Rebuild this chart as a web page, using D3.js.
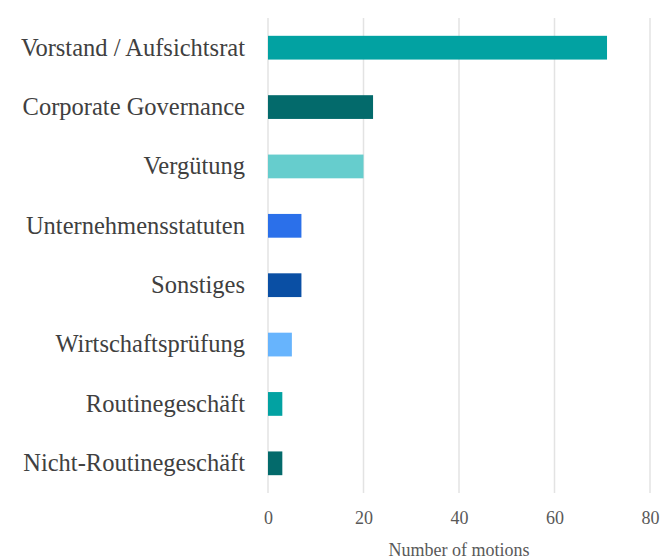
<!DOCTYPE html>
<meta charset="utf-8">
<style>
  body { margin: 0; background: #fff; }
  text { font-family: "Liberation Serif", "Times New Roman", serif; }
</style>
<svg width="669" height="560"></svg>
<script src="https://d3js.org/d3.v7.min.js"></script>
<script>

var categories = ["Vorstand / Aufsichtsrat", "Corporate Governance", "Vergütung", "Unternehmensstatuten",
                  "Sonstiges", "Wirtschaftsprüfung", "Routinegeschäft", "Nicht-Routinegeschäft"];
var motions = [71, 22, 20, 7, 7, 5, 3, 3];
var barColors = ["#02a2a2", "#036a6b", "#66cdcd", "#2b70ea", "#0a4fa4", "#67b4fd", "#02a2a2", "#036a6b"];
var tickValues = [0, 20, 40, 60, 80];
var axisTitle = "Number of motions";

var svg = d3.select("svg"), width = +svg.attr("width"), height = +svg.attr("height");

var x = d3.scaleLinear().domain([0, 80]).range([268, 650]);
var y = d3.scaleBand().domain(categories).range([18, 493]).paddingInner(0.6).paddingOuter(0.3);

// grid
svg.append("g").attr("class", "grid")
  .selectAll("line")
  .data(tickValues)
  .enter().append("line")
    .attr("x1", function(d) { return x(d); })
    .attr("x2", function(d) { return x(d); })
    .attr("y1", y.range()[0])
    .attr("y2", y.range()[1])
    .attr("stroke", "#e3e3e3")
    .attr("stroke-width", 1.5);

// bars
svg.append("g").attr("class", "bars")
  .selectAll("rect")
  .data(motions)
  .enter().append("rect")
    .attr("x", x(0))
    .attr("y", function(d, i) { return y(categories[i]); })
    .attr("width", function(d) { return x(d) - x(0); })
    .attr("height", y.bandwidth())
    .attr("fill", function(d, i) { return barColors[i]; });

// category labels
var yAxis = svg.append("g")
    .attr("transform", "translate(" + (x(0) - 23) + ",0)")
    .call(d3.axisLeft(y).tickSize(0).tickPadding(0));
yAxis.select(".domain").remove();
yAxis.selectAll("text")
    .attr("font-family", "Liberation Serif, serif")
    .attr("font-size", 24.5)
    .attr("fill", "#404040");

// x ticks
var xAxis = svg.append("g")
    .attr("transform", "translate(0," + y.range()[1] + ")")
    .call(d3.axisBottom(x).tickValues(tickValues).tickSize(0).tickPadding(18));
xAxis.select(".domain").remove();
xAxis.selectAll("text")
    .attr("font-family", "Liberation Serif, serif")
    .attr("font-size", 18)
    .attr("fill", "#595959");

svg.append("text")
    .attr("x", (x.range()[0] + x.range()[1]) / 2)
    .attr("y", 550)
    .attr("dy", "0.35em")
    .attr("text-anchor", "middle")
    .attr("font-size", 18)
    .attr("fill", "#595959")
    .text(axisTitle);

</script>
